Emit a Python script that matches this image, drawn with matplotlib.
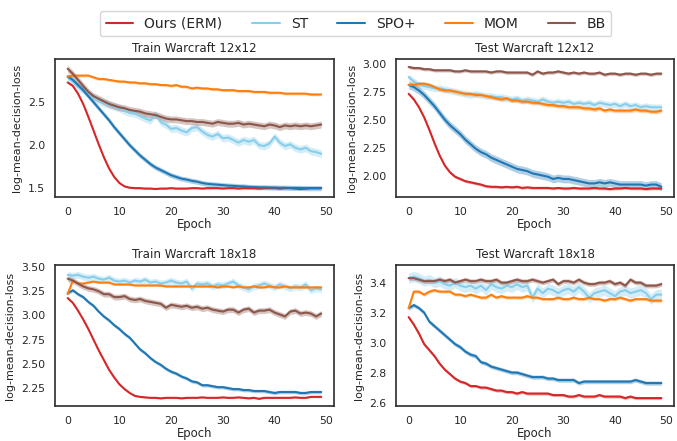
import matplotlib
matplotlib.use('Agg')
import matplotlib.pyplot as plt
import seaborn as sns
import numpy as np

sns.set_style('white')
plt.rcParams['font.family'] = ['DejaVu Sans']

epochs = np.arange(50)
methods = ['Ours (ERM)', 'ST', 'SPO+', 'MOM', 'BB']
colors = {'Ours (ERM)': '#d62728', 'ST': '#87ceeb', 'SPO+': '#1f77b4',
          'MOM': '#ff7f0e', 'BB': '#8c564b'}

# ---- Train Warcraft 12x12
train12_erm = [2.73, 2.69, 2.60, 2.48, 2.33, 2.17, 2.01, 1.86, 1.73, 1.63,
               1.56, 1.52, 1.505, 1.50, 1.50, 1.495, 1.495, 1.49, 1.495, 1.495,
               1.50, 1.495, 1.495, 1.495, 1.50, 1.50, 1.495, 1.50, 1.50, 1.50,
               1.495, 1.50, 1.50, 1.495, 1.50, 1.50, 1.50, 1.495, 1.50, 1.50,
               1.50, 1.495, 1.50, 1.50, 1.495, 1.49, 1.495, 1.50, 1.50, 1.50]
train12_st = [2.79, 2.74, 2.68, 2.64, 2.60, 2.55, 2.52, 2.49, 2.47, 2.45,
              2.43, 2.40, 2.38, 2.37, 2.34, 2.31, 2.29, 2.36, 2.27, 2.24,
              2.19, 2.20, 2.17, 2.15, 2.20, 2.21, 2.16, 2.12, 2.10, 2.13,
              2.08, 2.09, 2.06, 2.03, 2.06, 2.04, 2.06, 2.00, 1.99, 2.02,
              2.10, 2.03, 1.99, 2.01, 1.97, 1.95, 1.97, 1.93, 1.92, 1.90]
train12_spo = [2.80, 2.76, 2.70, 2.64, 2.57, 2.50, 2.43, 2.36, 2.29, 2.21,
               2.14, 2.07, 2.00, 1.94, 1.88, 1.83, 1.78, 1.74, 1.71, 1.68,
               1.65, 1.63, 1.61, 1.60, 1.585, 1.575, 1.56, 1.55, 1.545, 1.54,
               1.535, 1.53, 1.527, 1.522, 1.52, 1.515, 1.513, 1.51, 1.51, 1.508,
               1.507, 1.505, 1.505, 1.503, 1.503, 1.502, 1.50, 1.50, 1.50, 1.50]
train12_mom = [2.80, 2.81, 2.81, 2.81, 2.81, 2.79, 2.77, 2.77, 2.76, 2.75,
               2.74, 2.74, 2.73, 2.73, 2.72, 2.72, 2.71, 2.71, 2.70, 2.70,
               2.69, 2.70, 2.68, 2.68, 2.66, 2.67, 2.66, 2.66, 2.65, 2.65,
               2.64, 2.64, 2.64, 2.63, 2.63, 2.63, 2.62, 2.62, 2.62, 2.61,
               2.61, 2.61, 2.60, 2.60, 2.60, 2.60, 2.60, 2.59, 2.59, 2.59]
train12_bb = [2.89, 2.83, 2.76, 2.69, 2.62, 2.57, 2.54, 2.51, 2.48, 2.46,
              2.44, 2.43, 2.41, 2.40, 2.39, 2.37, 2.36, 2.35, 2.33, 2.31,
              2.30, 2.30, 2.29, 2.28, 2.28, 2.27, 2.27, 2.26, 2.25, 2.27,
              2.26, 2.25, 2.25, 2.26, 2.24, 2.25, 2.24, 2.23, 2.22, 2.24,
              2.23, 2.21, 2.23, 2.22, 2.23, 2.22, 2.23, 2.22, 2.23, 2.24]

# ---- Test Warcraft 12x12
test12_erm = [2.73, 2.68, 2.61, 2.52, 2.41, 2.29, 2.18, 2.09, 2.03, 1.99,
              1.97, 1.95, 1.94, 1.93, 1.92, 1.905, 1.90, 1.90, 1.895, 1.90,
              1.895, 1.90, 1.89, 1.895, 1.89, 1.89, 1.89, 1.89, 1.885, 1.89,
              1.885, 1.885, 1.89, 1.885, 1.885, 1.885, 1.89, 1.885, 1.885, 1.88,
              1.885, 1.885, 1.89, 1.885, 1.885, 1.885, 1.88, 1.885, 1.885, 1.885]
test12_st = [2.88, 2.84, 2.81, 2.80, 2.79, 2.78, 2.78, 2.77, 2.76, 2.75,
             2.74, 2.73, 2.72, 2.73, 2.72, 2.71, 2.71, 2.70, 2.70, 2.69,
             2.68, 2.69, 2.67, 2.68, 2.67, 2.66, 2.68, 2.66, 2.65, 2.66,
             2.65, 2.66, 2.64, 2.65, 2.64, 2.65, 2.63, 2.65, 2.64, 2.63,
             2.64, 2.62, 2.64, 2.62, 2.63, 2.61, 2.62, 2.61, 2.61, 2.61]
test12_spo = [2.81, 2.79, 2.76, 2.72, 2.67, 2.62, 2.56, 2.50, 2.45, 2.41,
              2.37, 2.32, 2.28, 2.24, 2.21, 2.19, 2.16, 2.14, 2.12, 2.10,
              2.08, 2.06, 2.05, 2.04, 2.02, 2.01, 2.00, 1.99, 1.97, 1.98,
              1.97, 1.97, 1.96, 1.95, 1.94, 1.93, 1.93, 1.94, 1.93, 1.94,
              1.93, 1.92, 1.92, 1.92, 1.92, 1.92, 1.91, 1.92, 1.92, 1.90]
test12_mom = [2.81, 2.81, 2.82, 2.82, 2.81, 2.79, 2.77, 2.76, 2.76, 2.75,
              2.74, 2.73, 2.73, 2.72, 2.72, 2.71, 2.70, 2.69, 2.68, 2.69,
              2.67, 2.67, 2.66, 2.66, 2.65, 2.65, 2.64, 2.63, 2.63, 2.62,
              2.62, 2.61, 2.61, 2.61, 2.60, 2.60, 2.59, 2.60, 2.58, 2.59,
              2.58, 2.58, 2.58, 2.58, 2.59, 2.58, 2.58, 2.57, 2.57, 2.58]
test12_bb = [2.97, 2.96, 2.96, 2.95, 2.95, 2.94, 2.94, 2.94, 2.94, 2.93,
             2.93, 2.94, 2.93, 2.93, 2.93, 2.93, 2.92, 2.93, 2.93, 2.92,
             2.92, 2.92, 2.92, 2.92, 2.90, 2.93, 2.91, 2.92, 2.92, 2.93,
             2.92, 2.91, 2.92, 2.91, 2.92, 2.91, 2.91, 2.92, 2.90, 2.91,
             2.91, 2.90, 2.91, 2.91, 2.90, 2.91, 2.91, 2.90, 2.91, 2.91]

# ---- Train Warcraft 18x18
train18_erm = [3.18, 3.13, 3.05, 2.96, 2.86, 2.75, 2.64, 2.54, 2.44, 2.36,
               2.29, 2.24, 2.20, 2.17, 2.16, 2.155, 2.15, 2.15, 2.145, 2.15,
               2.15, 2.15, 2.145, 2.15, 2.15, 2.15, 2.155, 2.15, 2.15, 2.15,
               2.155, 2.15, 2.15, 2.155, 2.15, 2.145, 2.15, 2.14, 2.15, 2.15,
               2.15, 2.15, 2.15, 2.15, 2.155, 2.15, 2.15, 2.16, 2.16, 2.16]
train18_st = [3.42, 3.41, 3.42, 3.40, 3.39, 3.40, 3.38, 3.37, 3.39, 3.36,
              3.35, 3.36, 3.34, 3.36, 3.35, 3.37, 3.34, 3.35, 3.33, 3.34,
              3.36, 3.34, 3.33, 3.35, 3.28, 3.33, 3.32, 3.33, 3.30, 3.32,
              3.31, 3.33, 3.35, 3.31, 3.29, 3.27, 3.30, 3.31, 3.33, 3.31,
              3.29, 3.32, 3.30, 3.28, 3.30, 3.29, 3.32, 3.26, 3.28, 3.27]
train18_spo = [3.23, 3.26, 3.22, 3.19, 3.14, 3.10, 3.04, 2.99, 2.95, 2.90,
               2.86, 2.81, 2.77, 2.71, 2.65, 2.61, 2.56, 2.52, 2.49, 2.45,
               2.42, 2.40, 2.37, 2.35, 2.32, 2.31, 2.28, 2.28, 2.27, 2.26,
               2.26, 2.25, 2.24, 2.24, 2.23, 2.23, 2.22, 2.22, 2.22, 2.21,
               2.20, 2.21, 2.21, 2.21, 2.21, 2.20, 2.20, 2.21, 2.21, 2.21]
train18_mom = [3.22, 3.36, 3.33, 3.33, 3.34, 3.35, 3.34, 3.34, 3.34, 3.32,
               3.32, 3.32, 3.32, 3.31, 3.31, 3.31, 3.31, 3.31, 3.31, 3.30,
               3.30, 3.30, 3.30, 3.30, 3.30, 3.30, 3.30, 3.30, 3.30, 3.29,
               3.30, 3.30, 3.29, 3.30, 3.29, 3.29, 3.30, 3.29, 3.29, 3.30,
               3.29, 3.29, 3.30, 3.29, 3.29, 3.29, 3.29, 3.29, 3.29, 3.29]
train18_bb = [3.38, 3.36, 3.33, 3.30, 3.28, 3.27, 3.25, 3.22, 3.22, 3.19,
              3.19, 3.20, 3.17, 3.16, 3.17, 3.15, 3.14, 3.13, 3.12, 3.08,
              3.11, 3.10, 3.09, 3.10, 3.08, 3.09, 3.07, 3.08, 3.06, 3.05,
              3.04, 3.06, 3.06, 3.03, 3.06, 3.07, 3.03, 3.05, 3.05, 3.06,
              3.03, 3.01, 2.99, 3.04, 3.05, 3.02, 3.03, 3.02, 2.99, 3.02]

# ---- Test Warcraft 18x18
test18_erm = [3.17, 3.12, 3.06, 2.99, 2.95, 2.91, 2.86, 2.82, 2.79, 2.76,
              2.74, 2.73, 2.71, 2.71, 2.70, 2.70, 2.69, 2.68, 2.68, 2.67,
              2.67, 2.66, 2.67, 2.66, 2.66, 2.66, 2.66, 2.66, 2.65, 2.65,
              2.65, 2.64, 2.64, 2.65, 2.64, 2.64, 2.64, 2.65, 2.64, 2.64,
              2.64, 2.64, 2.63, 2.64, 2.63, 2.63, 2.63, 2.63, 2.63, 2.63]
test18_st = [3.43, 3.44, 3.43, 3.41, 3.42, 3.40, 3.41, 3.39, 3.38, 3.40,
             3.38, 3.37, 3.38, 3.36, 3.38, 3.35, 3.39, 3.37, 3.36, 3.38,
             3.37, 3.39, 3.37, 3.38, 3.30, 3.36, 3.33, 3.36, 3.35, 3.33,
             3.35, 3.36, 3.34, 3.37, 3.34, 3.30, 3.33, 3.34, 3.35, 3.33,
             3.31, 3.34, 3.35, 3.33, 3.34, 3.35, 3.33, 3.29, 3.32, 3.32]
test18_spo = [3.23, 3.25, 3.23, 3.20, 3.14, 3.11, 3.08, 3.05, 3.02, 2.99,
              2.97, 2.94, 2.92, 2.91, 2.87, 2.86, 2.84, 2.83, 2.82, 2.81,
              2.80, 2.80, 2.79, 2.78, 2.77, 2.77, 2.77, 2.76, 2.76, 2.75,
              2.75, 2.75, 2.75, 2.73, 2.74, 2.74, 2.74, 2.74, 2.74, 2.74,
              2.74, 2.74, 2.74, 2.74, 2.75, 2.74, 2.73, 2.73, 2.73, 2.73]
test18_mom = [3.23, 3.34, 3.34, 3.32, 3.34, 3.35, 3.34, 3.34, 3.34, 3.32,
              3.32, 3.31, 3.32, 3.31, 3.30, 3.30, 3.32, 3.30, 3.31, 3.30,
              3.30, 3.30, 3.30, 3.31, 3.30, 3.30, 3.29, 3.29, 3.29, 3.30,
              3.29, 3.29, 3.30, 3.29, 3.29, 3.30, 3.29, 3.29, 3.28, 3.29,
              3.29, 3.30, 3.29, 3.28, 3.29, 3.29, 3.29, 3.28, 3.28, 3.28]
test18_bb = [3.43, 3.43, 3.42, 3.41, 3.41, 3.41, 3.42, 3.41, 3.42, 3.40,
             3.41, 3.42, 3.41, 3.41, 3.42, 3.41, 3.41, 3.42, 3.40, 3.40,
             3.41, 3.42, 3.41, 3.41, 3.42, 3.41, 3.40, 3.41, 3.42, 3.39,
             3.41, 3.41, 3.40, 3.42, 3.40, 3.39, 3.39, 3.40, 3.40, 3.41,
             3.39, 3.40, 3.38, 3.42, 3.40, 3.40, 3.38, 3.38, 3.38, 3.39]

# half-width of the shaded band for each method (ERM, ST, SPO+, MOM, BB)
band12_train = [0.008, 0.045, 0.03, 0.015, 0.04]
band12_test = [0.012, 0.03, 0.035, 0.018, 0.015]
band18_train = [0.008, 0.035, 0.018, 0.01, 0.03]
band18_test = [0.01, 0.035, 0.014, 0.01, 0.015]

yticks12_train = [1.5, 2.0, 2.5]
yticks12_test = [2.00, 2.25, 2.50, 2.75, 3.00]
yticks18_train = [2.25, 2.50, 2.75, 3.00, 3.25, 3.50]
yticks18_test = [2.6, 2.8, 3.0, 3.2, 3.4]

panels = [
    ('Train Warcraft 12x12', [train12_erm, train12_st, train12_spo, train12_mom, train12_bb],
     band12_train, yticks12_train, '%.1f'),
    ('Test Warcraft 12x12', [test12_erm, test12_st, test12_spo, test12_mom, test12_bb],
     band12_test, yticks12_test, '%.2f'),
    ('Train Warcraft 18x18', [train18_erm, train18_st, train18_spo, train18_mom, train18_bb],
     band18_train, yticks18_train, '%.2f'),
    ('Test Warcraft 18x18', [test18_erm, test18_st, test18_spo, test18_mom, test18_bb],
     band18_test, yticks18_test, '%.1f'),
]

fig = plt.figure(figsize=(6.77, 4.41), dpi=100)
positions = [
    [0.0812, 0.5533, 0.412, 0.3129],
    [0.585, 0.5533, 0.4106, 0.3129],
    [0.0812, 0.0794, 0.412, 0.3197],
    [0.585, 0.0794, 0.4106, 0.3197],
]

handles = []
for k, (title, series, bands, yt, fmt) in enumerate(panels):
    ax = fig.add_axes(positions[k])
    for m, vals, b in zip(methods, series, bands):
        vals = np.array(vals)
        ax.fill_between(epochs, vals - b, vals + b, color=colors[m], alpha=0.35, lw=0)
        line, = ax.plot(epochs, vals, color=colors[m], lw=1.5, label=m)
        if k == 0:
            handles.append(line)
    ax.set_title(title, fontsize=8.6, pad=5)
    ax.set_xlabel('Epoch', fontsize=8.4, labelpad=1)
    ax.set_ylabel('log-mean-decision-loss', fontsize=8.0)
    ax.tick_params(labelsize=7.8)
    ax.set_xticks([0, 10, 20, 30, 40, 50])
    ax.set_yticks(yt)
    ax.yaxis.set_major_formatter(matplotlib.ticker.FormatStrFormatter(fmt))
    for s in ax.spines.values():
        s.set_color('#333333')
        s.set_linewidth(1.25)

fig.legend(handles=handles, loc='upper center', bbox_to_anchor=(0.5254, 0.99),
           ncol=5, fontsize=10, columnspacing=2.1, frameon=True)

fig.savefig('out.png', dpi=100)
